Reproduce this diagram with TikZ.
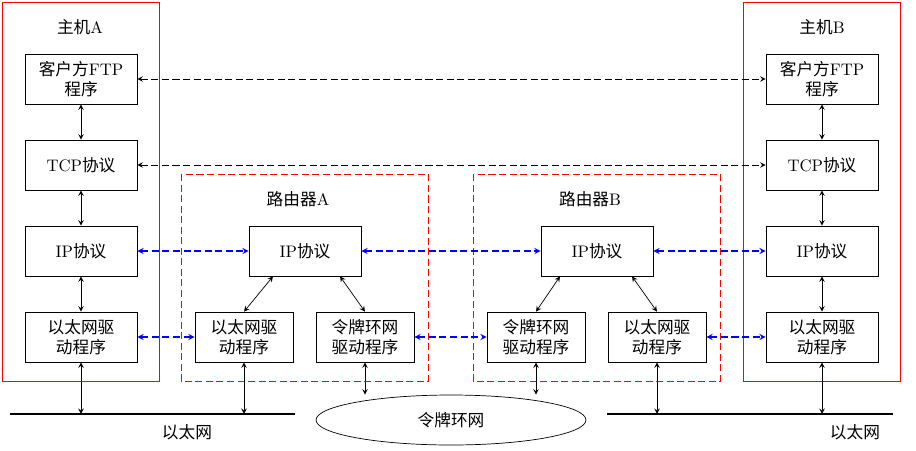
\documentclass[tikz,border=0pt]{standalone}
\usepackage{fontspec}
\newfontfamily\cjk{Noto Sans CJK SC}
\usetikzlibrary{arrows,calc,shapes,positioning}
\newcommand{\zh}[1]{{\cjk #1}}
\begin{document}
\begin{tikzpicture}[x=0.02cm,y=-0.02cm,font=\fontsize{9.5}{11.5}\selectfont]
  \tikzset{LayerBox/.style = {draw, minimum width = 2.24cm, minimum height = 1cm, align = center, inner sep = 1pt}};
  \tikzset{SmallBox/.style = {LayerBox, minimum width = 1.96cm}};
  \tikzset{HostFrame/.style = {draw = red}};
  \tikzset{RouterFrame/.style = {draw = red, dash pattern = on 4pt off 2pt}};
  \tikzset{EdgeStyle/.style = {>=stealth, <->}};
  \tikzset{PeerStyle/.style = {>=stealth, <->, dash pattern = on 4pt off 2pt}};
  \tikzset{BluePeer/.style = {PeerStyle, color = blue, semithick}};
  \useasboundingbox (0,0) rectangle (916,450);

  % hosts
  \draw[HostFrame] (2,2) rectangle (159,381);
  \draw[HostFrame] (743,2) rectangle (900,381);
  \node (host a) at (80,27) {\zh{主机}A};
  \node (host b) at (822,27) {\zh{主机}B};
  \node[LayerBox] (ftp a) at (81,79) {\zh{客户方}FTP\\\zh{程序}};
  \node[LayerBox] (tcp a) at (81,165) {TCP\zh{协议}};
  \node[LayerBox] (ip a) at (81,251) {IP\zh{协议}};
  \node[LayerBox] (eth a) at (81,337) {\zh{以太网驱}\\\zh{动程序}};
  \node[LayerBox] (ftp b) at (822,79) {\zh{客户方}FTP\\\zh{程序}};
  \node[LayerBox] (tcp b) at (822,165) {TCP\zh{协议}};
  \node[LayerBox] (ip b) at (822,251) {IP\zh{协议}};
  \node[LayerBox] (eth b) at (822,337) {\zh{以太网驱}\\\zh{动程序}};

  % routers
  \draw[RouterFrame] (181,174) rectangle (428,381);
  \draw[RouterFrame] (473,174) rectangle (720,381);
  \node (router a) at (298,199) {\zh{路由器}A};
  \node (router b) at (590,199) {\zh{路由器}B};
  \node[LayerBox] (ip ra) at (305,251) {IP\zh{协议}};
  \node[SmallBox] (eth ra) at (244,337) {\zh{以太网驱}\\\zh{动程序}};
  \node[SmallBox] (ring ra) at (365,337) {\zh{令牌环网}\\\zh{驱动程序}};
  \node[LayerBox] (ip rb) at (597,251) {IP\zh{协议}};
  \node[SmallBox] (ring rb) at (536,337) {\zh{令牌环网}\\\zh{驱动程序}};
  \node[SmallBox] (eth rb) at (657,337) {\zh{以太网驱}\\\zh{动程序}};

  % networks
  \coordinate (lan a w) at (10,414);
  \coordinate (lan a e) at (295,414);
  \coordinate (lan b w) at (607,414);
  \coordinate (lan b e) at (893,414);
  \draw[line width=1.5pt] (lan a w) -- (lan a e);
  \draw[line width=1.5pt] (lan b w) -- (lan b e);
  \node (lan a) at (187,432) {\zh{以太网}};
  \node (lan b) at (855,432) {\zh{以太网}};
  \node[draw, ellipse, minimum width = 5.4cm, minimum height = 1cm] (ring) at (451,420) {\zh{令牌环网}};

  % stacks
  \draw[EdgeStyle] (ftp a) -- (tcp a);
  \draw[EdgeStyle] (tcp a) -- (ip a);
  \draw[EdgeStyle] (ip a) -- (eth a);
  \draw[EdgeStyle] (ftp b) -- (tcp b);
  \draw[EdgeStyle] (tcp b) -- (ip b);
  \draw[EdgeStyle] (ip b) -- (eth b);
  \draw[EdgeStyle] ([xshift=-0.64cm]ip ra.south) -- (eth ra.north);
  \draw[EdgeStyle] ([xshift=0.7cm]ip ra.south) -- (ring ra.north);
  \draw[EdgeStyle] ([xshift=-0.74cm]ip rb.south) -- (ring rb.north);
  \draw[EdgeStyle] ([xshift=0.7cm]ip rb.south) -- (eth rb.north);

  % to the wires
  \draw[EdgeStyle] (eth a.south) -- (eth a.south |- lan a w);
  \draw[EdgeStyle] (eth ra.south) -- (eth ra.south |- lan a w);
  \draw[EdgeStyle] (eth rb.south) -- (eth rb.south |- lan b w);
  \draw[EdgeStyle] (eth b.south) -- (eth b.south |- lan b w);
  \draw[EdgeStyle] (ring ra.south) -- (ring ra.south |- ring.north);
  \draw[EdgeStyle] (ring rb.south) -- (ring rb.south |- ring.north);

  % peers
  \draw[PeerStyle] (ftp a) -- (ftp b);
  \draw[PeerStyle] (tcp a) -- (tcp b);
  \draw[BluePeer] (ip a) -- (ip ra);
  \draw[BluePeer] (ip ra) -- (ip rb);
  \draw[BluePeer] (ip rb) -- (ip b);
  \draw[BluePeer] (eth a) -- (eth ra);
  \draw[BluePeer] (ring ra) -- (ring rb);
  \draw[BluePeer] (eth rb) -- (eth b);
\end{tikzpicture}
\end{document}
